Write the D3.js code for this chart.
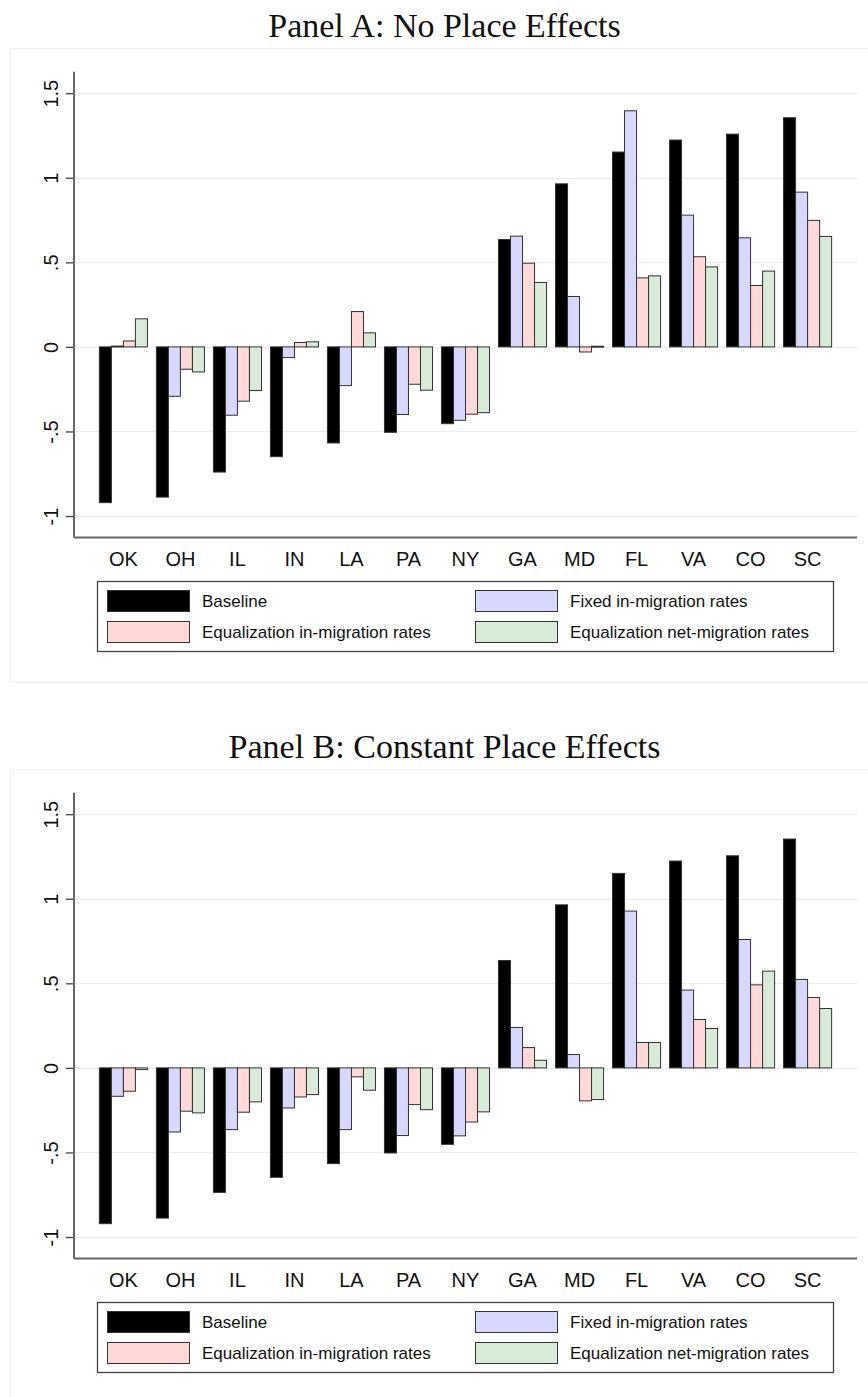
<!DOCTYPE html>
<html>
<head>
<meta charset="utf-8">
<script src="https://cdn.jsdelivr.net/npm/d3@7/dist/d3.min.js"></script>
<style>
  html, body { margin: 0; padding: 0; background: #fff; }
  svg { display: block; }
</style>
</head>
<body>
<svg id="chart" width="868" height="1397"></svg>
<script>
// ---------------- DATA ----------------
const categories = ["OK","OH","IL","IN","LA","PA","NY","GA","MD","FL","VA","CO","SC"];
const seriesNames = ["Baseline","Fixed in-migration rates","Equalization in-migration rates","Equalization net-migration rates"];
const yTicks = [-1, -0.5, 0, 0.5, 1, 1.5];
const panelTitles = ["Panel A: No Place Effects", "Panel B: Constant Place Effects"];

// Panel A: No Place Effects
const aBaseline = [-0.921,-0.888,-0.740,-0.649,-0.568,-0.505,-0.454,0.635,0.964,1.152,1.223,1.258,1.355];
const aFixedIn  = [0.005,-0.292,-0.404,-0.063,-0.229,-0.400,-0.434,0.655,0.298,1.396,0.779,0.645,0.915];
const aEqualIn  = [0.035,-0.132,-0.321,0.026,0.209,-0.221,-0.398,0.495,-0.030,0.408,0.533,0.363,0.748];
const aEqualNet = [0.166,-0.148,-0.258,0.030,0.083,-0.256,-0.389,0.381,0.004,0.420,0.473,0.448,0.653];

// Panel B: Constant Place Effects
const bBaseline = [-0.921,-0.888,-0.736,-0.647,-0.566,-0.503,-0.452,0.635,0.964,1.150,1.223,1.254,1.353];
const bFixedIn  = [-0.168,-0.379,-0.365,-0.237,-0.365,-0.400,-0.402,0.239,0.079,0.927,0.460,0.759,0.523];
const bEqualIn  = [-0.138,-0.256,-0.262,-0.172,-0.053,-0.217,-0.320,0.120,-0.195,0.150,0.286,0.491,0.416];
const bEqualNet = [-0.010,-0.266,-0.201,-0.158,-0.132,-0.247,-0.260,0.045,-0.187,0.150,0.233,0.572,0.351];

// ---------------- STYLE ----------------
const fills = ["#000000", "#d8d8ff", "#ffd8d8", "#d8ead8"];
const barStroke = "#333333";

const svg = d3.select("#chart");

function fmtTick(d) {
  if (d === 0) return "0";
  const s = String(Math.abs(d)).replace(/^0/, "");
  return (d < 0 ? "-" : "") + s;
}

function drawPanel(off, title, series) {
  const g = svg.append("g").attr("transform", `translate(0,${off})`);

  // faint outer frame
  g.append("rect")
    .attr("x", 10.5).attr("y", 48.5)
    .attr("width", 870).attr("height", 634)
    .attr("fill", "none").attr("stroke", "#eef2f4").attr("stroke-width", 1);

  // title
  g.append("text")
    .attr("x", 444.5).attr("y", 37)
    .attr("text-anchor", "middle")
    .attr("font-family", "'Liberation Serif', 'Times New Roman', serif")
    .attr("font-size", 34)
    .attr("fill", "#111")
    .text(title);

  const left = 74, right = 857, top = 71.7, bottom = 537.5;
  const y = d3.scaleLinear().domain([-1.124, 1.627]).range([537.0, 71.7]);
  const x = d3.scaleBand().domain(categories).range([left, right])
    .paddingInner(0.157).paddingOuter(0.445);
  const xs = d3.scaleBand().domain(d3.range(seriesNames.length)).range([0, x.bandwidth()]);

  // gridlines
  g.append("g").selectAll("line").data(yTicks).join("line")
    .attr("x1", left + 1).attr("x2", right)
    .attr("y1", d => Math.round(y(d)) + 0.5).attr("y2", d => Math.round(y(d)) + 0.5)
    .attr("stroke", "#e5eeee").attr("stroke-width", 1.2);

  // bars
  const rows = [];
  categories.forEach((c, i) => {
    series.forEach((arr, s) => rows.push({ c, s, v: arr[i] }));
  });
  g.append("g").selectAll("rect").data(rows).join("rect")
    .attr("x", d => x(d.c) + xs(d.s))
    .attr("width", xs.bandwidth())
    .attr("y", d => y(Math.max(0, d.v)))
    .attr("height", d => Math.max(1, Math.abs(y(d.v) - y(0))))
    .attr("fill", d => fills[d.s])
    .attr("stroke", barStroke)
    .attr("stroke-width", 1);

  // y axis
  const yAxis = d3.axisLeft(y).tickValues(yTicks).tickFormat(fmtTick).tickSize(8).tickPadding(0);
  const ya = g.append("g").attr("transform", `translate(${left},0)`).call(yAxis);
  ya.select(".domain").remove();
  ya.selectAll(".tick line").attr("stroke", "#444").attr("stroke-width", 1.3);
  ya.selectAll(".tick text")
    .attr("font-family", "'Liberation Sans', Arial, sans-serif")
    .attr("font-size", 20)
    .attr("fill", "#111")
    .attr("text-anchor", "middle")
    .attr("dy", 0)
    .attr("x", 0).attr("y", 0)
    .attr("transform", "translate(-16,0) rotate(-90)");
  g.append("line").attr("x1", left).attr("x2", left).attr("y1", top).attr("y2", bottom)
    .attr("stroke", "#666").attr("stroke-width", 2);

  // x axis
  const xAxis = d3.axisBottom(x).tickSize(0).tickPadding(0);
  const xa = g.append("g").attr("transform", `translate(0,${bottom})`).call(xAxis);
  xa.select(".domain").remove();
  xa.selectAll(".tick text")
    .attr("font-family", "'Liberation Sans', Arial, sans-serif")
    .attr("font-size", 20)
    .attr("fill", "#111")
    .attr("dy", 0)
    .attr("y", 28.5);
  g.append("line").attr("x1", left).attr("x2", right).attr("y1", bottom).attr("y2", bottom)
    .attr("stroke", "#666").attr("stroke-width", 2);

  // legend
  const lg = g.append("g");
  lg.append("rect").attr("x", 97.5).attr("y", 581.5).attr("width", 736).attr("height", 70)
    .attr("fill", "#fff").attr("stroke", "#444").attr("stroke-width", 1.3);
  const legPos = [[107, 590], [475, 590], [107, 621], [475, 621]];
  seriesNames.forEach((name, s) => {
    const [lx, ly] = legPos[s];
    lg.append("rect").attr("x", lx + 0.5).attr("y", ly + 0.5).attr("width", 82).attr("height", 21)
      .attr("fill", fills[s]).attr("stroke", barStroke).attr("stroke-width", 1);
    lg.append("text").attr("x", lx + 95).attr("y", ly + 17)
      .attr("font-family", "'Liberation Sans', Arial, sans-serif")
      .attr("font-size", 17).attr("fill", "#111")
      .text(name);
  });
}

drawPanel(0, panelTitles[0], [aBaseline, aFixedIn, aEqualIn, aEqualNet]);
drawPanel(721, panelTitles[1], [bBaseline, bFixedIn, bEqualIn, bEqualNet]);
</script>
</body>
</html>
